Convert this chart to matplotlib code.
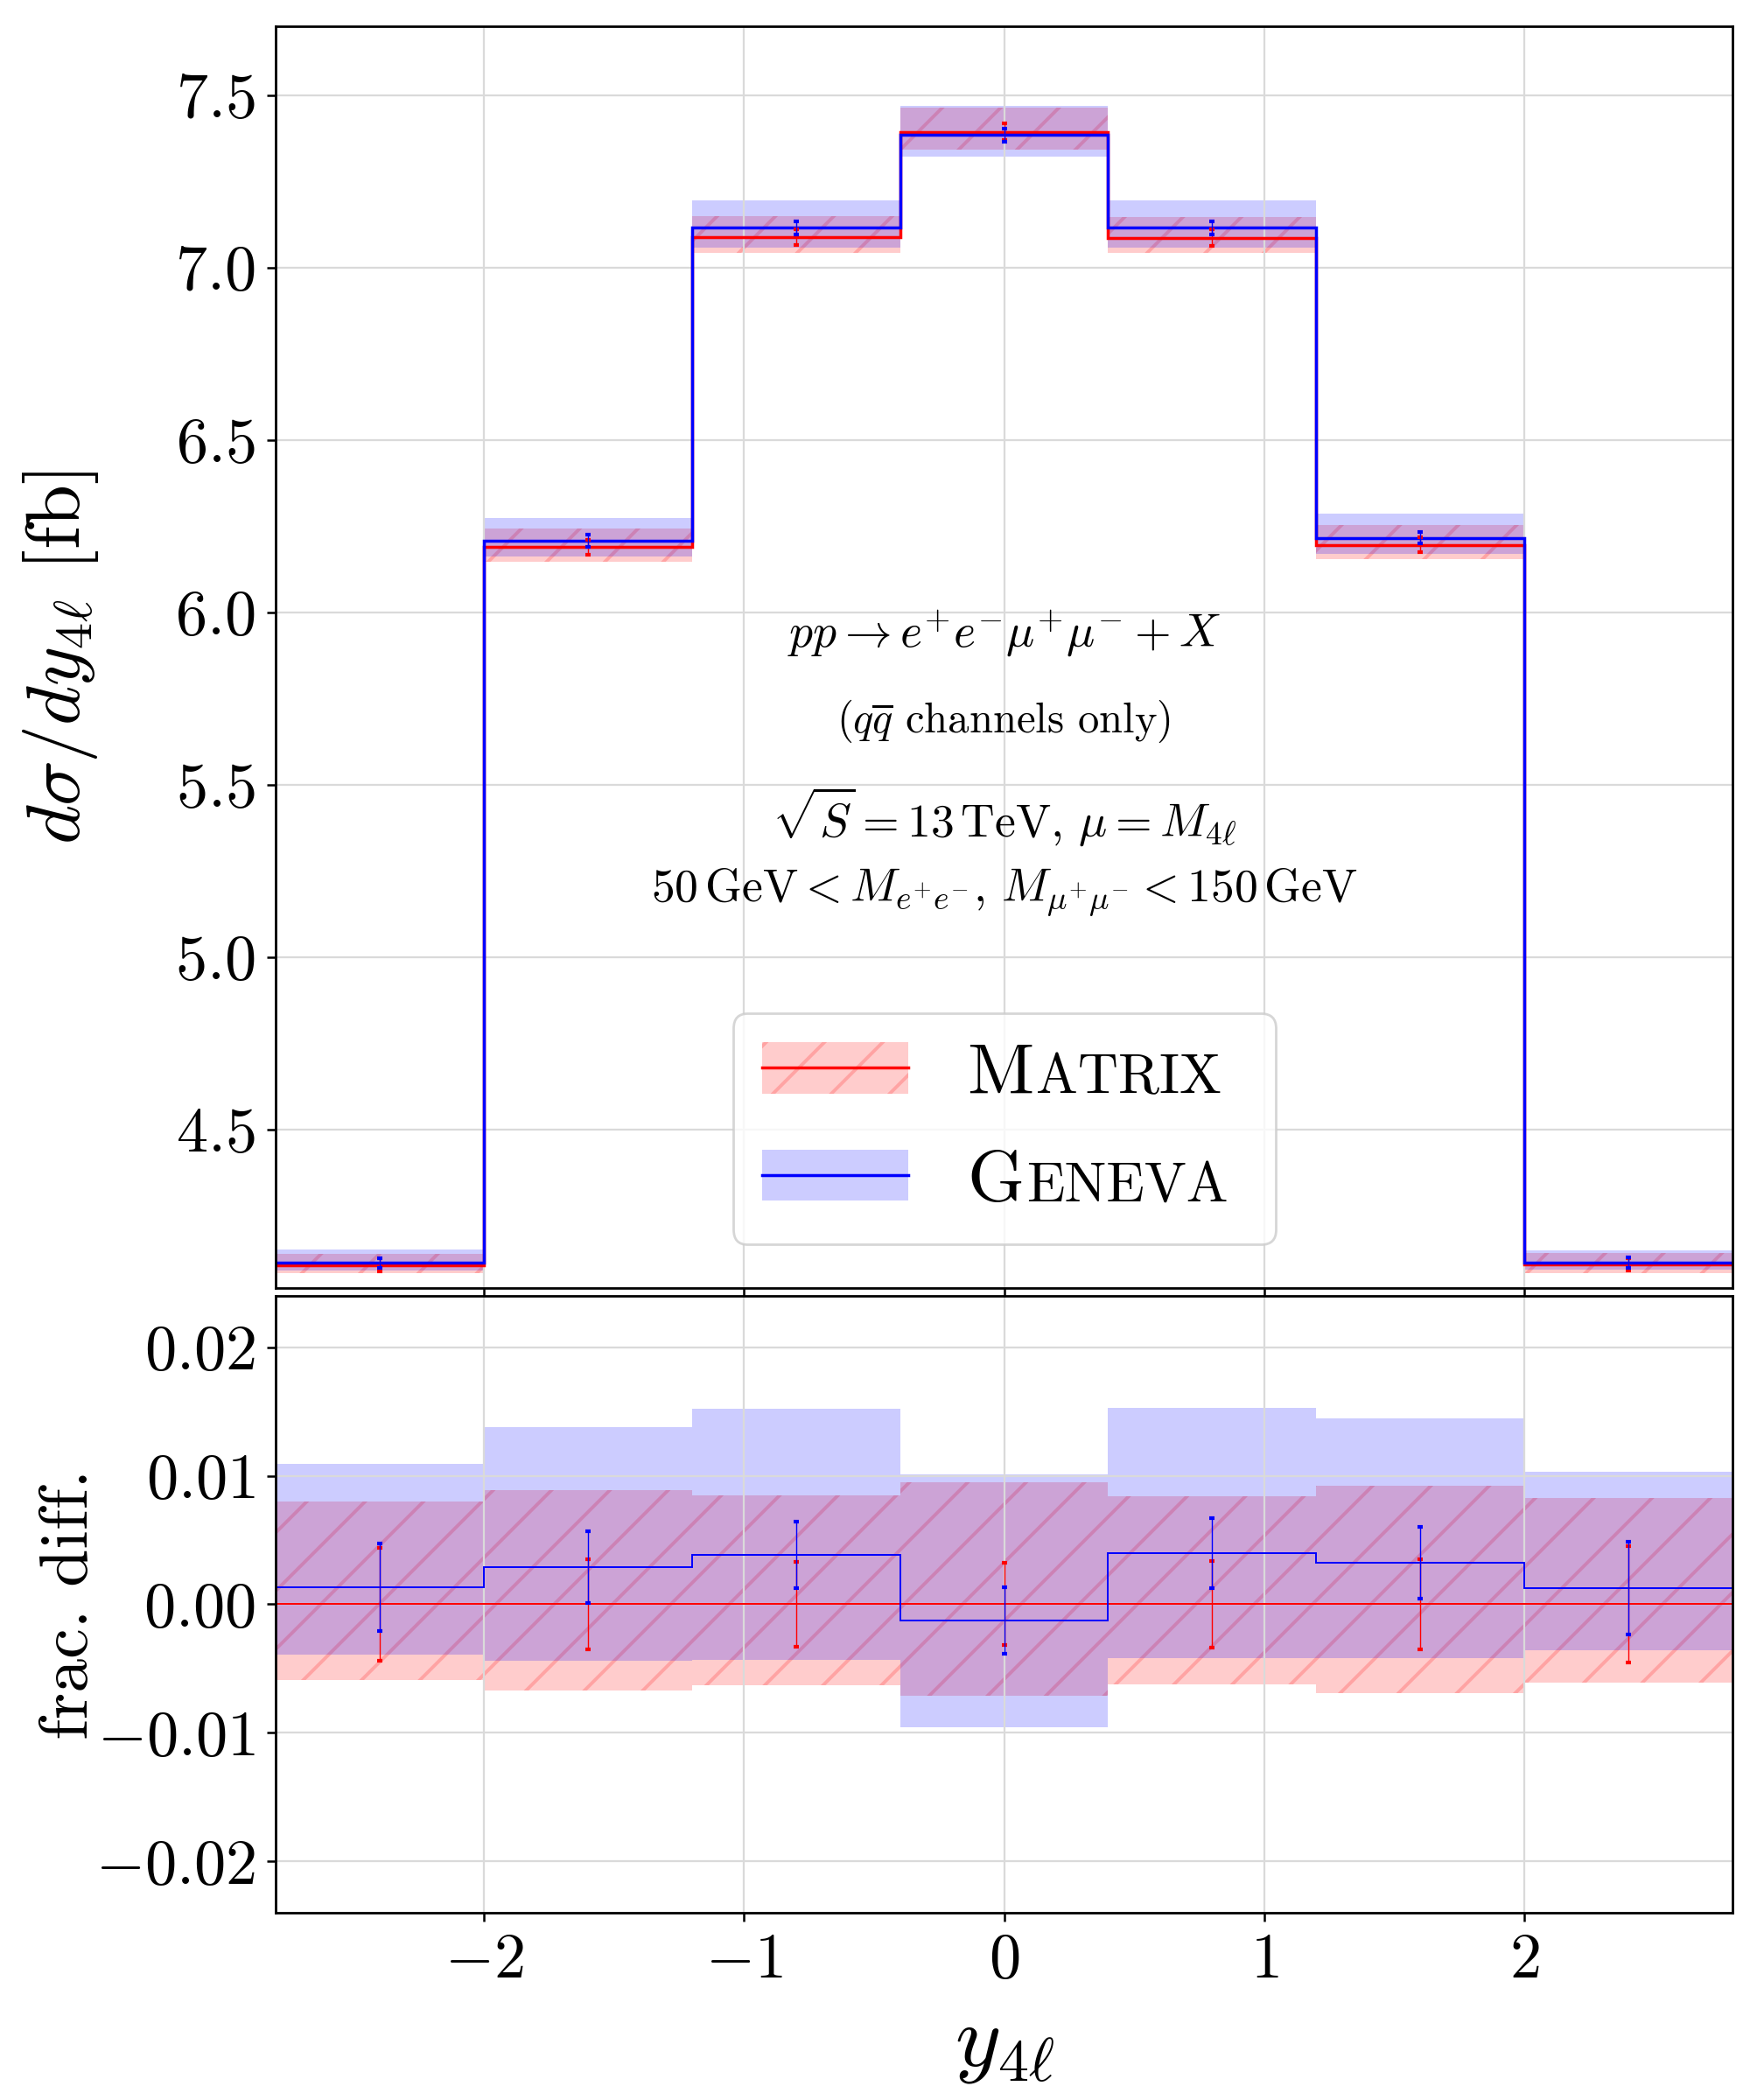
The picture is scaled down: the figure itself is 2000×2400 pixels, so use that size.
import numpy as np
import matplotlib
matplotlib.use("Agg")
import matplotlib.pyplot as plt
from matplotlib.patches import Patch
from matplotlib.lines import Line2D

plt.rcParams.update({
    "font.family": "serif",
    "font.serif": ["cmr10"],
    "mathtext.fontset": "cm",
    "axes.formatter.use_mathtext": True,
    "hatch.linewidth": 1.4,
    "axes.unicode_minus": True,
})

# ---------------- data ----------------
bin_edges = [-2.8, -2.0, -1.2, -0.4, 0.4, 1.2, 2.0, 2.8]
matrix_vals = [4.107, 6.189, 7.088, 7.394, 7.087, 6.196, 4.108]
geneva_vals = [4.1124, 6.2069, 7.1153, 7.3846, 7.1152, 6.2161, 4.1131]
# scale-variation bands, as fraction of MATRIX central value
matrix_band_up = [0.0080, 0.0089, 0.0085, 0.0095, 0.0084, 0.0092, 0.0083]
matrix_band_dn = [-0.0059, -0.0067, -0.0063, -0.0071, -0.0062, -0.0069, -0.0061]
geneva_band_up = [0.0109, 0.0138, 0.0152, 0.0101, 0.0153, 0.0145, 0.0103]
geneva_band_dn = [-0.0039, -0.0044, -0.0043, -0.0096, -0.0042, -0.0042, -0.0036]
# statistical errors (fractional)
matrix_stat = [0.0044, 0.0035, 0.0033, 0.0032, 0.0034, 0.0035, 0.0045]
geneva_stat = [0.0034, 0.0028, 0.0026, 0.0026, 0.0027, 0.0028, 0.0036]

legend_names = ["Matrix", "Geneva"]
x_ticks = [-2, -1, 0, 1, 2]
top_yticks = [4.5, 5.0, 5.5, 6.0, 6.5, 7.0, 7.5]
bot_yticks = [-0.02, -0.01, 0.0, 0.01, 0.02]

edges = np.array(bin_edges)
M = np.array(matrix_vals)
G = np.array(geneva_vals)
centers = 0.5 * (edges[1:] + edges[:-1])
m_up, m_dn = np.array(matrix_band_up), np.array(matrix_band_dn)
g_up, g_dn = np.array(geneva_band_up), np.array(geneva_band_dn)
m_err, g_err = np.array(matrix_stat), np.array(geneva_stat)

RED = "red"
BLUE = "blue"

fig = plt.figure(figsize=(10, 12), dpi=200)
ax1 = fig.add_axes([0.1575, 0.38667, 0.8325, 0.60083])
ax2 = fig.add_axes([0.1575, 0.08917, 0.8325, 0.29375], sharex=ax1)

band_kw_m = dict(fill=True, facecolor=RED, edgecolor=RED, alpha=0.2, hatch="/", linewidth=0)
band_kw_g = dict(fill=True, facecolor=BLUE, edgecolor=BLUE, alpha=0.2, linewidth=0)
ebar_kw = dict(fmt="none", elinewidth=0.5, capsize=1.0, capthick=1.5)

# ---------------- top panel ----------------
ax1.stairs(M * (1 + m_up), edges, baseline=M * (1 + m_dn), zorder=1, **band_kw_m)
ax1.stairs(M * (1 + g_up), edges, baseline=M * (1 + g_dn), zorder=1, **band_kw_g)
ax1.stairs(M, edges, baseline=None, color=RED, linewidth=1.25, zorder=2)
ax1.stairs(G, edges, baseline=None, color=BLUE, linewidth=1.25, zorder=2.1)
ax1.errorbar(centers, M, yerr=M * m_err, ecolor=RED, zorder=3, **ebar_kw)
ax1.errorbar(centers, G, yerr=M * g_err, ecolor=BLUE, zorder=3, **ebar_kw)

ax1.set_xlim(-2.8, 2.8)
ax1.set_ylim(4.04, 7.70)
ax1.set_yticks(top_yticks)
ax1.set_xticks(x_ticks)
ax1.tick_params(axis="x", labelbottom=False)
ax1.set_ylabel(r"$d\sigma/dy_{4\ell}$ [fb]", fontsize=31)
ax1.yaxis.set_label_coords(-0.12, 0.5)

txt_kw = dict(transform=ax1.transAxes, ha="center", va="center")
ax1.text(0.5, 0.518, r"$pp\to e^{+}e^{-}\mu^{+}\mu^{-}+X$", fontsize=19.3, **txt_kw)
ax1.text(0.5, 0.449, r"($q\overline{q}$ channels only)", fontsize=17.5, **txt_kw)
ax1.text(0.5, 0.374, r"$\sqrt{S}=13\,\mathrm{TeV},\,\mu=M_{4\ell}$", fontsize=19.3, **txt_kw)
ax1.text(0.5, 0.314, r"$50\,\mathrm{GeV}<M_{e^{+}e^{-}},\,M_{\mu^{+}\mu^{-}}<150\,\mathrm{GeV}$",
         fontsize=19.3, **txt_kw)

# legend (labels drawn as small caps next to empty legend texts)
h_m = (Patch(facecolor=RED, edgecolor=RED, alpha=0.2, hatch="/", linewidth=0),
       Line2D([], [], color=RED, linewidth=1.25))
h_g = (Patch(facecolor=BLUE, edgecolor=BLUE, alpha=0.2, linewidth=0),
       Line2D([], [], color=BLUE, linewidth=1.25))
LEG_FS = 30
leg = ax1.legend([h_m, h_g], ["", ""], loc="lower center",
                 bbox_to_anchor=(0.5, 0.035), borderaxespad=0, fontsize=LEG_FS,
                 handlelength=2.0, handleheight=0.7, handletextpad=4.64,
                 borderpad=0.4, labelspacing=0.58, fancybox=True,
                 framealpha=0.8, edgecolor="0.8")
leg.set_zorder(5)
for t, name in zip(leg.get_texts(), legend_names):
    first = ax1.annotate(name[0], xy=(0, 0), xycoords=t, ha="left", va="baseline",
                         xytext=(-114.8, 0), textcoords="offset points",
                         fontsize=LEG_FS, zorder=10, annotation_clip=False)
    ax1.annotate(name[1:].upper(), xy=(1, 0.218), xycoords=first, ha="left", va="baseline",
                 xytext=(1.0, 0), textcoords="offset points",
                 fontsize=23, zorder=10, annotation_clip=False)

# ---------------- bottom panel ----------------
zero = (M - M) / M
diff_g = (G - M) / M
ax2.stairs(m_up, edges, baseline=m_dn, zorder=1, **band_kw_m)
ax2.stairs(g_up, edges, baseline=g_dn, zorder=1, **band_kw_g)
ax2.stairs(zero, edges, baseline=None, color=RED, linewidth=0.7, zorder=2)
ax2.stairs(diff_g, edges, baseline=None, color=BLUE, linewidth=0.7, zorder=2.1)
ax2.errorbar(centers, zero, yerr=m_err, ecolor=RED, zorder=3, **ebar_kw)
ax2.errorbar(centers, diff_g, yerr=g_err, ecolor=BLUE, zorder=3, **ebar_kw)

ax2.set_ylim(-0.024, 0.024)
ax2.set_yticks(bot_yticks)
ax2.set_xticks(x_ticks)
ax2.set_ylabel("frac. diff.", fontsize=28)
ax2.yaxis.set_label_coords(-0.12, 0.5)
ax2.set_xlabel(r"$y_{4\ell}$", fontsize=36)
ax2.xaxis.set_label_coords(0.5, -0.155)

for ax in (ax1, ax2):
    ax.set_axisbelow("line")
    ax.grid(True, color="#dadada", linewidth=0.8)
    ax.tick_params(axis="both", labelsize=26, direction="out", length=3.5, width=0.9, pad=5)
    for s in ax.spines.values():
        s.set_linewidth(1.0)

fig.savefig("out.png", dpi=200)
